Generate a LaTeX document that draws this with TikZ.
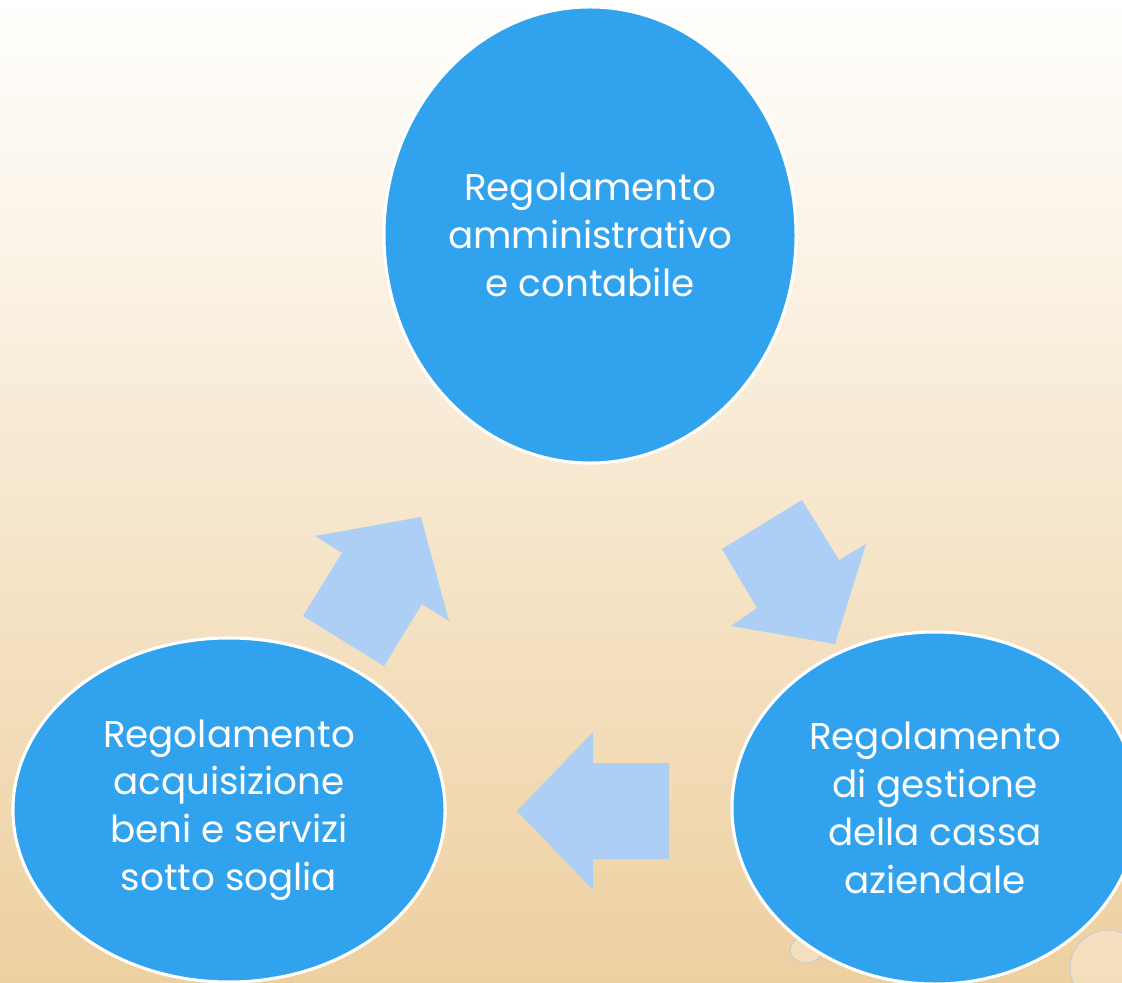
\documentclass[tikz,border=0pt]{standalone}
\usepackage{fontspec}
\newfontfamily\bubblefont{Poppins}
\usetikzlibrary{shapes.geometric}
\definecolor{bubbleblue}{RGB}{49,163,238}
\definecolor{arrowblue}{RGB}{173,207,245}
\definecolor{sandtop}{RGB}{255,255,254}
\definecolor{sandmid}{RGB}{247,234,214}
\definecolor{sandbot}{RGB}{238,208,160}
\tikzset{
  bubble/.style={ellipse, draw=white, line width=2.2pt, fill=bubbleblue, text=white,
    inner sep=0pt, align=center, font=\bubblefont\fontsize{26.5}{34}\selectfont},
  flow/.style={fill=arrowblue},
  drop/.style={fill=white, fill opacity=0.3, draw=black!20, line width=0.8pt}
}

\begin{document}
\begin{tikzpicture}[x=0.025cm, y=-0.025cm]
			%%%%% START %%%%%
			
			\shade[top color=sandtop, middle color=sandmid, bottom color=sandbot] (0,0) rectangle (1122,983);
			\useasboundingbox (0,0) rectangle (1122,983);
			
			\draw[drop] (806,950) ellipse (16 and 13);
			\draw[drop] (1108,968) circle (38);
			
			\node[bubble, minimum width=10.3cm, minimum height=11.4cm] (admin) at (590,235) {Regolamento\\amministrativo\\e contabile};
			\node[bubble, minimum width=10.15cm, minimum height=8.8cm] (cassa) at (935,808) {Regolamento\\di gestione\\della cassa\\aziendale};
			\node[bubble, minimum width=10.8cm, minimum height=8.6cm] (beni) at (229,810) {Regolamento\\acquisizione\\beni e servizi\\sotto soglia};
			
			\fill[flow] (722,549) -- (802,500) -- (839,560) -- (866,544) -- (835,644) -- (731,626) -- (757,608) -- cycle;
			\fill[flow] (669,763) -- (593,763) -- (593,732) -- (517,811) -- (593,890) -- (593,859) -- (669,859) -- cycle;
			\fill[flow] (303,616) -- (342,553) -- (315,536) -- (421,517) -- (449,621) -- (422,604) -- (384,666) -- cycle;
			
			%%%%% END %%%%%
\end{tikzpicture}
\end{document}
